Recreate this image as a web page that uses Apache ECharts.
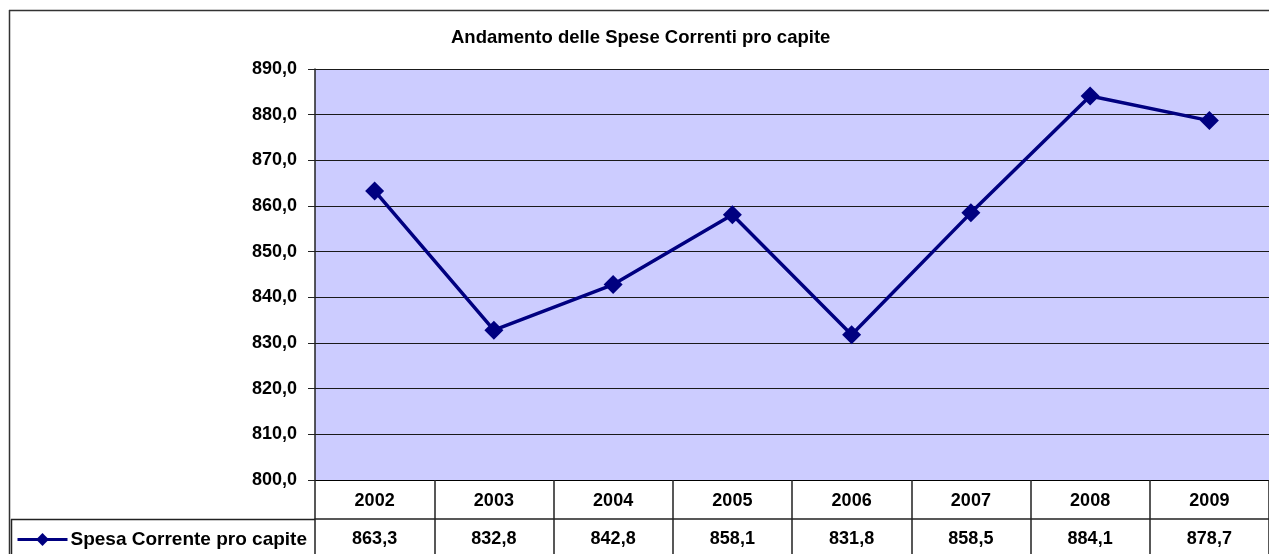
<!DOCTYPE html>
<html lang="it">
<head>
    <meta charset="UTF-8">
    <title>Andamento delle Spese Correnti pro capite</title>
    <script src="https://cdn.jsdelivr.net/npm/echarts@6/dist/echarts.min.js"></script>
    <style>
        html, body { margin: 0; padding: 0; background: #fff; }
        #main { width: 1269px; height: 554px; }
    </style>
</head>
<body>
<div id="main"></div>
<script>
    // dati
    const anni = ['2002', '2003', '2004', '2005', '2006', '2007', '2008', '2009'];
    const spesaCorrente = [863.3, 832.8, 842.8, 858.1, 831.8, 858.5, 884.1, 878.7];
    const nomeSerie = 'Spesa Corrente pro capite';

    const fmt = v => Number(v).toFixed(1).replace('.', ',');
    const font = "'Liberation Sans', Arial, sans-serif";

    const chart = echarts.init(document.getElementById('main'));

    chart.setOption({
        backgroundColor: '#fff',
        animation: false,
        title: {
            text: 'Andamento delle Spese Correnti pro capite',
            left: 451,
            top: 28,
            padding: 0,
            textStyle: { fontFamily: font, fontSize: 18.5, fontWeight: 'bold', color: '#000' }
        },
        legend: {
            data: [nomeSerie],
            left: 16,
            top: 530,
            padding: 0,
            itemWidth: 50,
            itemHeight: 16,
            itemGap: 0,
            lineStyle: { width: 3, color: '#000080' },
            textStyle: { fontFamily: font, fontSize: 19, fontWeight: 'bold', color: '#000', padding: [0, 0, 0, -2] }
        },
        grid: {
            left: 315,
            right: -8,
            top: 69,
            bottom: 74,
            show: true,
            backgroundColor: '#CCCCFF',
            borderWidth: 0
        },
        xAxis: [
            {
                type: 'category',
                data: anni,
                position: 'bottom',
                boundaryGap: true,
                axisLine: { show: true, lineStyle: { color: '#000', width: 1 } },
                axisTick: { show: true, length: 39, lineStyle: { color: '#222', width: 1.5 } },
                axisLabel: { margin: 12, fontFamily: font, fontSize: 18, fontWeight: 'bold', color: '#000' }
            },
            {
                type: 'category',
                data: spesaCorrente.map(fmt),
                position: 'bottom',
                offset: 39,
                boundaryGap: true,
                axisLine: { show: true, lineStyle: { color: '#222', width: 1.5 } },
                axisTick: { show: true, length: 40, lineStyle: { color: '#222', width: 1.5 } },
                axisLabel: { margin: 11, fontFamily: font, fontSize: 18, fontWeight: 'bold', color: '#000' }
            }
        ],
        yAxis: {
            type: 'value',
            min: 800,
            max: 890,
            interval: 10,
            axisLine: { show: true, lineStyle: { color: '#222', width: 1.5 } },
            axisTick: { show: true, length: 7, lineStyle: { color: '#222' } },
            splitLine: { show: true, lineStyle: { color: '#1a1a1a', width: 1 } },
            axisLabel: {
                margin: 18,
                formatter: fmt,
                fontFamily: font, fontSize: 18, fontWeight: 'bold', color: '#000'
            }
        },
        series: [
            {
                name: nomeSerie,
                type: 'line',
                xAxisIndex: 0,
                data: spesaCorrente,
                symbol: 'diamond',
                symbolSize: 19,
                lineStyle: { color: '#000080', width: 3.5 },
                itemStyle: { color: '#000080' }
            }
        ],
        graphic: [
            // cornice esterna del grafico
            { type: 'line', shape: { x1: 9, y1: 10.5, x2: 1269, y2: 10.5 }, style: { stroke: '#333', lineWidth: 1.5 } },
            { type: 'line', shape: { x1: 9.5, y1: 10, x2: 9.5, y2: 554 }, style: { stroke: '#333', lineWidth: 1.5 } },
            // cella legenda della tabella dati
            { type: 'line', shape: { x1: 11, y1: 519.5, x2: 315, y2: 519.5 }, style: { stroke: '#222', lineWidth: 1.5 } },
            { type: 'line', shape: { x1: 11.5, y1: 519, x2: 11.5, y2: 554 }, style: { stroke: '#222', lineWidth: 1.5 } }
        ]
    });
</script>
</body>
</html>
